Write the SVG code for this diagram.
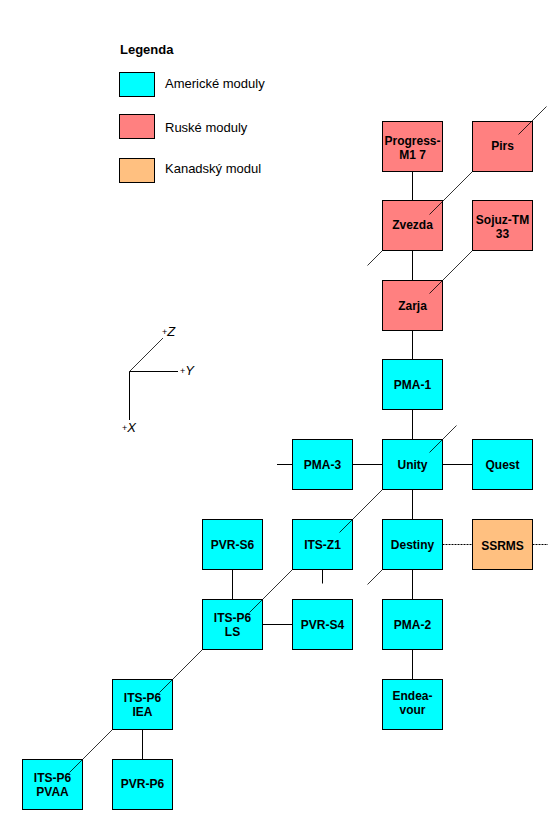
<svg xmlns="http://www.w3.org/2000/svg" width="560" height="820" viewBox="0 0 560 820">
<defs>
<style>
.bg{fill:#ffffff}
.n rect{stroke:#000;stroke-width:1}
.us{fill:#00ffff}
.ru{fill:#ff8080}
.ca{fill:#ffc080}
.n text{font-family:"Liberation Sans",Arial,sans-serif;font-weight:bold;font-size:12px;text-anchor:middle;fill:#000}
.c line{stroke:#000;stroke-width:1;fill:none}
.c line.dg{stroke-width:0.8}
.c line.dot{stroke-dasharray:2,1}
.lg text{font-family:"Liberation Sans",Arial,sans-serif;font-size:13px;fill:#000}
.lg rect{stroke:#000;stroke-width:1}
.ax line{stroke:#000;stroke-width:1}
.ax text{font-family:"Liberation Sans",Arial,sans-serif;fill:#000}
.ax .p{font-size:9px}
.ax .v{font-size:13px;font-style:italic}
</style>
</defs>
<rect class="bg" x="0" y="0" width="560" height="820"/>

<g id="legend" class="lg">
<text x="120" y="54" style="font-weight:bold">Legenda</text>
<rect class="us" x="119.5" y="72.5" width="35" height="24"/>
<text x="165" y="88">Americké moduly</text>
<rect class="ru" x="119.5" y="114.5" width="35" height="24"/>
<text x="165" y="132">Ruské moduly</text>
<rect class="ca" x="119.5" y="158.5" width="35" height="24"/>
<text x="165" y="173">Kanadský modul</text>
</g>

<g id="axes" class="ax">
<line x1="129.5" y1="371.5" x2="178" y2="371.5"/>
<line x1="129.5" y1="371.5" x2="129.5" y2="420"/>
<line x1="129.5" y1="371.5" x2="163" y2="338" style="stroke-width:0.8"/>
<text x="180" y="375"><tspan class="p" dy="-1">+</tspan><tspan class="v" dy="1">Y</tspan></text>
<text x="162" y="336"><tspan class="p" dy="-1">+</tspan><tspan class="v" dy="1">Z</tspan></text>
<text x="122" y="432"><tspan class="p" dy="-1">+</tspan><tspan class="v" dy="1">X</tspan></text>
</g>

<g id="n-progress" class="n"><rect class="ru" x="382.5" y="121.5" width="60" height="50"/><text x="412.5" y="145">Progress-</text><text x="412.5" y="159">M1 7</text></g>
<g id="n-pirs" class="n"><rect class="ru" x="472.5" y="121.5" width="60" height="50"/><text x="502.5" y="150">Pirs</text></g>
<g id="n-zvezda" class="n"><rect class="ru" x="382.5" y="200.5" width="60" height="50"/><text x="412.5" y="229">Zvezda</text></g>
<g id="n-sojuz" class="n"><rect class="ru" x="472.5" y="200.5" width="60" height="50"/><text x="502.5" y="224">Sojuz-TM</text><text x="502.5" y="238">33</text></g>
<g id="n-zarja" class="n"><rect class="ru" x="382.5" y="280.5" width="60" height="50"/><text x="412.5" y="309.5">Zarja</text></g>
<g id="n-pma1" class="n"><rect class="us" x="382.5" y="359.5" width="60" height="50"/><text x="412.5" y="388.5">PMA-1</text></g>
<g id="n-pma3" class="n"><rect class="us" x="292.5" y="439.5" width="60" height="50"/><text x="322.5" y="469">PMA-3</text></g>
<g id="n-unity" class="n"><rect class="us" x="382.5" y="439.5" width="60" height="50"/><text x="412.5" y="469">Unity</text></g>
<g id="n-quest" class="n"><rect class="us" x="472.5" y="439.5" width="60" height="50"/><text x="502.5" y="469">Quest</text></g>
<g id="n-pvrs6" class="n"><rect class="us" x="202.5" y="519.5" width="60" height="50"/><text x="232.5" y="549">PVR-S6</text></g>
<g id="n-itsz1" class="n"><rect class="us" x="292.5" y="519.5" width="60" height="50"/><text x="322.5" y="549">ITS-Z1</text></g>
<g id="n-destiny" class="n"><rect class="us" x="382.5" y="519.5" width="60" height="50"/><text x="412.5" y="549">Destiny</text></g>
<g id="n-ssrms" class="n"><rect class="ca" x="472.5" y="519.5" width="60" height="50"/><text x="502.5" y="549.5">SSRMS</text></g>
<g id="n-itsp6ls" class="n"><rect class="us" x="202.5" y="599.5" width="60" height="50"/><text x="232.5" y="621.5">ITS-P6</text><text x="232.5" y="635.5">LS</text></g>
<g id="n-pvrs4" class="n"><rect class="us" x="292.5" y="599.5" width="60" height="50"/><text x="322.5" y="628.5">PVR-S4</text></g>
<g id="n-pma2" class="n"><rect class="us" x="382.5" y="599.5" width="60" height="50"/><text x="412.5" y="629">PMA-2</text></g>
<g id="n-itsp6iea" class="n"><rect class="us" x="112.5" y="679.5" width="60" height="50"/><text x="142.5" y="702">ITS-P6</text><text x="142.5" y="716">IEA</text></g>
<g id="n-endeavour" class="n"><rect class="us" x="382.5" y="679.5" width="60" height="50"/><text x="412.5" y="700">Endea-</text><text x="412.5" y="713.5">vour</text></g>
<g id="n-itsp6pvaa" class="n"><rect class="us" x="22.5" y="759.5" width="60" height="50"/><text x="52.5" y="782">ITS-P6</text><text x="52.5" y="796">PVAA</text></g>
<g id="n-pvrp6" class="n"><rect class="us" x="112.5" y="759.5" width="60" height="50"/><text x="142.5" y="787.5">PVR-P6</text></g>

<g id="connectors" class="c">
<line x1="412.5" y1="171.5" x2="412.5" y2="200.5"/>
<line x1="412.5" y1="250.5" x2="412.5" y2="280.5"/>
<line x1="412.5" y1="330.5" x2="412.5" y2="359.5"/>
<line x1="412.5" y1="409.5" x2="412.5" y2="439.5"/>
<line x1="412.5" y1="489.5" x2="412.5" y2="519.5"/>
<line x1="412.5" y1="569.5" x2="412.5" y2="599.5"/>
<line x1="412.5" y1="649.5" x2="412.5" y2="679.5"/>
<line x1="277" y1="464.5" x2="292.5" y2="464.5"/>
<line x1="352.5" y1="464.5" x2="382.5" y2="464.5"/>
<line x1="442.5" y1="464.5" x2="472.5" y2="464.5"/>
<line class="dot" x1="442.5" y1="544.5" x2="472.5" y2="544.5"/>
<line class="dot" x1="532.5" y1="544.5" x2="548" y2="544.5"/>
<line x1="322.5" y1="569.5" x2="322.5" y2="583.5"/>
<line x1="232.5" y1="569.5" x2="232.5" y2="599.5"/>
<line x1="262.5" y1="624.5" x2="292.5" y2="624.5"/>
<line x1="142.5" y1="729.5" x2="142.5" y2="759.5"/>
<line class="dg" x1="546.5" y1="106.5" x2="518.5" y2="134.5"/>
<line class="dg" x1="472.5" y1="171.5" x2="429.5" y2="214.5"/>
<line class="dg" x1="382.5" y1="250.5" x2="367.5" y2="265.5"/>
<line class="dg" x1="472.5" y1="250.5" x2="429.5" y2="293.5"/>
<line class="dg" x1="456.5" y1="425.5" x2="429.5" y2="452.5"/>
<line class="dg" x1="382.5" y1="489.5" x2="339.5" y2="532.5"/>
<line class="dg" x1="292.5" y1="569.5" x2="249.5" y2="612.5"/>
<line class="dg" x1="382.5" y1="569.5" x2="367.5" y2="584.5"/>
<line class="dg" x1="202.5" y1="649.5" x2="159.5" y2="692.5"/>
<line class="dg" x1="112.5" y1="729.5" x2="69.5" y2="772.5"/>
</g>
</svg>
